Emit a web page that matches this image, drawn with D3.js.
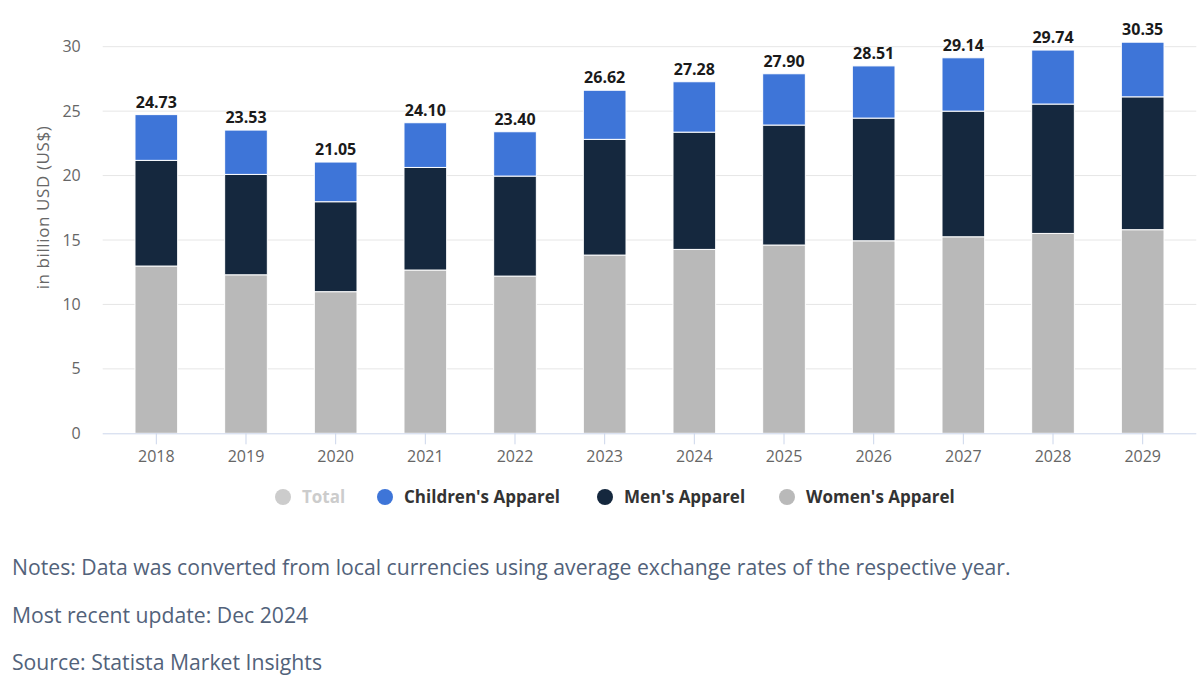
<!DOCTYPE html>
<html>
<head>
<meta charset="utf-8">
<script src="https://cdn.jsdelivr.net/npm/d3@7/dist/d3.min.js"></script>
<style>
  html, body { margin: 0; padding: 0; background: #ffffff; }
  svg { display: block; font-family: "Open Sans", "Noto Sans", sans-serif; }
</style>
</head>
<body>
<svg id="chart" width="1200" height="686"></svg>
<script>
const years = ["2018","2019","2020","2021","2022","2023","2024","2025","2026","2027","2028","2029"];
const womens = [12.98, 12.30, 10.99, 12.67, 12.20, 13.83, 14.27, 14.61, 14.94, 15.25, 15.51, 15.80];
const mens = [8.20, 7.79, 6.98, 7.96, 7.76, 8.98, 9.10, 9.31, 9.52, 9.75, 10.04, 10.31];
const childrens = [3.55, 3.44, 3.08, 3.47, 3.44, 3.81, 3.91, 3.98, 4.05, 4.14, 4.19, 4.24];
const totals = [24.73, 23.53, 21.05, 24.10, 23.40, 26.62, 27.28, 27.90, 28.51, 29.14, 29.74, 30.35];
const yTicks = [0, 5, 10, 15, 20, 25, 30];
const seriesNames = ["Women's Apparel", "Men's Apparel", "Children's Apparel"];
const legendNames = ["Total", "Children's Apparel", "Men's Apparel", "Women's Apparel"];
const notes = [
  "Notes: Data was converted from local currencies using average exchange rates of the respective year.",
  "Most recent update: Dec 2024",
  "Source: Statista Market Insights"
];

const colors = {
  "Total": "#cccccc",
  "Children's Apparel": "#3e75d8",
  "Men's Apparel": "#15283e",
  "Women's Apparel": "#b9b9b9"
};

(function () {
const svg = d3.select("#chart");
const pLeft = 102.7, pRight = 1196.3, pTop = 46.7, pBottom = 433.3;

const x = d3.scaleBand().domain(years).range([pLeft, pRight]).paddingInner(0.524).paddingOuter(0.36);
const y = d3.scaleLinear().domain([0, 30]).range([pBottom, pTop]);

// gridlines
svg.append("g").selectAll("line").data(yTicks.filter(d => d > 0)).join("line")
  .attr("x1", pLeft).attr("x2", pRight)
  .attr("y1", d => y(d)).attr("y2", d => y(d))
  .attr("stroke", "#e6e6e6").attr("stroke-width", 1);

// y axis labels
const yAxis = d3.axisLeft(y).tickValues(yTicks).tickSize(0).tickPadding(0);
const yg = svg.append("g").attr("transform", `translate(${pLeft - 22},0)`).call(yAxis);
yg.select(".domain").remove();
yg.selectAll("text").attr("font-family", "Open Sans").attr("font-size", 16).attr("fill", "#666666");

// y title
svg.append("text")
  .attr("transform", `translate(48.5,207.5) rotate(-90)`)
  .attr("text-anchor", "middle")
  .attr("font-size", 17)
  .attr("letter-spacing", 0.6)
  .attr("fill", "#666666")
  .text("in billion USD (US$)");

// stacked data
const rows = years.map((yr, i) => ({
  year: yr,
  "Women's Apparel": womens[i],
  "Men's Apparel": mens[i],
  "Children's Apparel": childrens[i]
}));
const stack = d3.stack().keys(seriesNames)(rows);

svg.append("g").selectAll("g").data(stack).join("g")
  .attr("fill", d => colors[d.key])
  .selectAll("rect").data(d => d).join("rect")
  .attr("x", d => x(d.data.year))
  .attr("width", x.bandwidth())
  .attr("y", d => y(d[1]))
  .attr("height", d => y(d[0]) - y(d[1]))
  .attr("stroke", "#ffffff").attr("stroke-width", 1);

// x axis
const xAxis = d3.axisBottom(x).tickSize(11).tickPadding(6);
const xg = svg.append("g").attr("transform", `translate(0,${pBottom})`).call(xAxis);
xg.select(".domain").attr("d", `M${pLeft},0.5H${pRight}`).attr("stroke", "#ccd6eb");
xg.selectAll(".tick line").attr("stroke", "#ccd6eb");
xg.selectAll("text").attr("font-family", "Open Sans").attr("font-size", 16).attr("fill", "#666666");

// total labels
svg.append("g").selectAll("text").data(years).join("text")
  .attr("x", d => x(d) + x.bandwidth() / 2)
  .attr("y", (d, i) => y(totals[i]) - 7)
  .attr("text-anchor", "middle")
  .attr("font-size", 16)
  .attr("font-weight", "bold")
  .attr("fill", "#1a1a1a")
  .text((d, i) => totals[i].toFixed(2));

// legend
const legendX = [283, 385, 605, 787];
const lg = svg.append("g").selectAll("g").data(legendNames).join("g")
  .attr("transform", (d, i) => `translate(${legendX[i]},497)`);
lg.append("circle").attr("r", 8).attr("fill", d => colors[d]);
lg.append("text")
  .attr("x", 19).attr("dy", "0.35em")
  .attr("font-size", 17)
  .attr("font-weight", "bold")
  .attr("fill", d => d === "Total" ? "#cccccc" : "#333333")
  .text(d => d);

// notes
svg.append("g").selectAll("text").data(notes).join("text")
  .attr("x", 12)
  .attr("y", (d, i) => 568 + i * 47.5)
  .attr("dy", "0.35em")
  .attr("font-size", 21.2)
  .attr("fill", "#52627a")
  .text(d => d);
})();
</script>
</body>
</html>
